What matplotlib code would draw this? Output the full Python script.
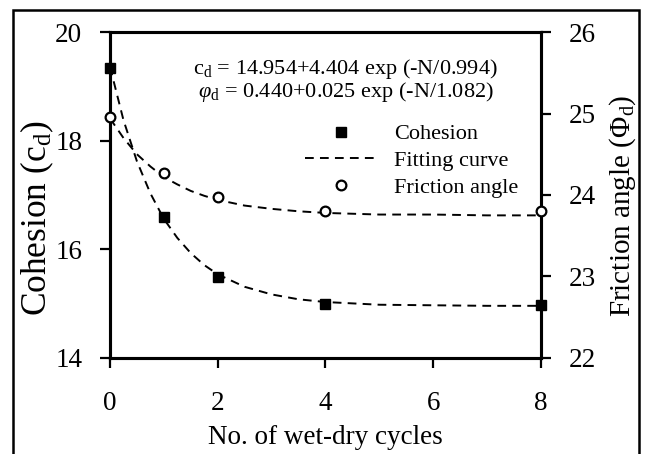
import matplotlib
matplotlib.use('Agg')
import matplotlib.pyplot as plt
from matplotlib.lines import Line2D
from matplotlib.patches import Rectangle

plt.rcParams['font.family'] = ['Liberation Serif', 'DejaVu Serif']
plt.rcParams['mathtext.fontset'] = 'custom'
plt.rcParams['mathtext.rm'] = 'Liberation Serif'
plt.rcParams['mathtext.it'] = 'Liberation Serif:italic'

# measured points
cycles = [0, 1, 2, 4, 8]
cohesion = [19.33, 16.59, 15.49, 14.99, 14.98]
friction = [24.96, 24.27, 23.97, 23.80, 23.80]

# fitting curves
fit_x = [0, 0.25, 0.5, 0.75, 1, 1.25, 1.5, 1.75, 2, 2.5, 3, 3.5, 4, 5, 6, 7, 8]
fit_coh = [19.36, 18.38, 17.62, 17.03, 16.56, 16.21, 15.93, 15.71, 15.54,
           15.31, 15.17, 15.08, 15.03, 14.98, 14.97, 14.96, 14.96]
fit_fric = [24.94, 24.70, 24.50, 24.35, 24.22, 24.13, 24.05, 23.99, 23.94,
            23.87, 23.83, 23.80, 23.78, 23.76, 23.76, 23.75, 23.75]

fig = plt.figure(figsize=(6.47, 4.54), dpi=100)
ax = fig.add_axes([0.170, 0.2115, 0.666, 0.718])
ax2 = ax.twinx()

dash = (0, (4.5, 3.2))
ax.plot(fit_x, fit_coh, color='black', lw=1.4, linestyle=dash)
ax.plot(cycles, cohesion, 's', color='black', ms=7.5, clip_on=False, zorder=5)
ax2.plot(fit_x, fit_fric, color='black', lw=1.4, linestyle=dash)
ax2.plot(cycles, friction, 'o', mfc='white', mec='black', mew=1.6, ms=7,
         clip_on=False, zorder=5)

ax.set_xlim(0, 8)
ax.set_ylim(14, 20)
ax2.set_ylim(22, 26)
ax.set_xticks([0, 2, 4, 6, 8])
ax.set_yticks([14, 16, 18, 20])
ax2.set_yticks([22, 23, 24, 25, 26])

for a in (ax, ax2):
    for s in a.spines.values():
        s.set_linewidth(2.2)
    a.tick_params(direction='out', length=7, width=1.6, labelsize=19.5, pad=13)
ax.tick_params(axis='x', pad=17)

ax.set_xlabel('No. of wet-dry cycles', fontsize=19.5, labelpad=6)
ax.set_ylabel(r'Cohesion (c$_{\rm d}$)', fontsize=25.5)
ax2.set_ylabel(r'Friction angle ($\Phi_{\rm d}$)', fontsize=21)
ax.yaxis.label.set_va('center')
ax2.yaxis.label.set_va('center')
ax.yaxis.set_label_coords(-0.169, 0.43)
ax2.yaxis.set_label_coords(1.19, 0.466)

ax.text(0.547, 0.885, r'c$_{\rm d}$ = 14.954+4.404 exp (-N/0.994)',
        transform=ax.transAxes, ha='center', va='center', fontsize=16)
ax.text(0.547, 0.815, r'$\varphi_{\rm d}$ = 0.440+0.025 exp (-N/1.082)',
        transform=ax.transAxes, ha='center', va='center', fontsize=16)

handles = [
    Line2D([], [], marker='s', color='black', linestyle='none', ms=7.5),
    Line2D([], [], color='black', lw=1.4, linestyle=dash),
    Line2D([], [], marker='o', mfc='white', mec='black', mew=1.6, ms=7,
           linestyle='none'),
]
labels = ['Cohesion', 'Fitting curve', 'Friction angle']
fig.legend(handles, labels, loc='upper left', bbox_to_anchor=(0.471, 0.727),
           frameon=False, fontsize=16, handlelength=3.3, handletextpad=0.7,
           borderpad=0, borderaxespad=0, labelspacing=0.27)

# outer frame
fig.patches.append(Rectangle((13 / 647, -0.05), 626 / 647, 1.05 - 10 / 454,
                             transform=fig.transFigure, fill=False,
                             edgecolor='black', lw=1.8))

fig.savefig('out.png', dpi=100)
